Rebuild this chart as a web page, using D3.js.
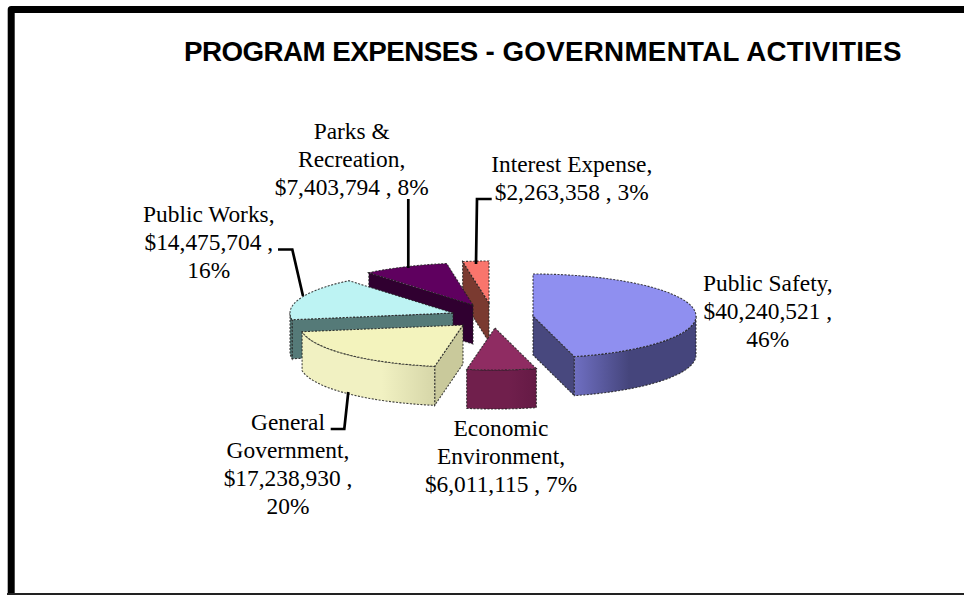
<!DOCTYPE html>
<html><head><meta charset="utf-8">
<script src="https://cdn.jsdelivr.net/npm/d3@7"></script>
<style>html,body{margin:0;padding:0;background:#fff}svg{display:block}</style>
</head><body><svg id="c" width="964" height="595"></svg>
<script>
const titleParts = ["PROGRAM EXPENSES","-","GOVERNMENTAL ACTIVITIES"];
const categories = ["Public Safety","Economic Environment","General Government","Public Works","Parks & Recreation","Interest Expense"];
const amounts = [40240521,6011115,17238930,14475704,7403794,2263358];
const labelLines = [
  ["Public Safety,","$40,240,521 ,","46%"],
  ["Economic","Environment,","$6,011,115 , 7%"],
  ["General","Government,","$17,238,930 ,","20%"],
  ["Public Works,","$14,475,704 ,","16%"],
  ["Parks &","Recreation,","$7,403,794 , 8%"],
  ["Interest Expense,","$2,263,358 , 3%"]
];
// layout
const W=964,H=595, rx=163, ry=42, depth=39;
const apexX=[533,495,463,453,473,489], apexY=[316,328,325,313,305,303];
const labelX=[767.8,501,288,208.8,351.7,571.7], labelY=[291,435.5,430,222,139,171.7];
const topCol=["#8f8ff0","#8f2c62","#f3f3bd","#bdf3f3","#5f005f","#f9756c"];
const radialCol=["#48487e","#6a1c48","#c9c99b","#557a78","#300030","#7a3a30"];
const wallDark=["#45457c","#651a45","#d6d6a8","#557a78","#300030","#7a3a30"];
const wallLight=["#6f6fc2","#701f4c","#f1f1c2","#557a78","#300030","#7a3a30"];
const drawOrder=[5,4,3,2,1,0];

const svg=d3.select("#c");
svg.append("rect").attr("width",W).attr("height",H).attr("fill","#fff");
svg.append("path").attr("d","M11.2,600 V9.4 H970").attr("fill","none").attr("stroke","#000").attr("stroke-width",7).attr("stroke-linejoin","round");
svg.append("line").attr("x1",7).attr("x2",W).attr("y1",594.2).attr("y2",594.2).attr("stroke","#222").attr("stroke-width",2.6);

// title: condensed horizontally
const title=svg.append("text").attr("font-family","'Liberation Sans',Arial,sans-serif").attr("font-weight","bold").attr("font-size",28.5).attr("fill","#000");
title.append("tspan").attr("letter-spacing",-0.55).text(titleParts[0]);
title.append("tspan").text(" "+titleParts[1]+" ");
title.append("tspan").attr("letter-spacing",0.3).text(titleParts[2]);
const tw=title.node().getBBox().width;
title.attr("transform",`translate(184,61.4) scale(${718/tw},1)`);

const pie=d3.pie().sort(null).value(d=>d);
const arcs=pie(amounts);
const defs=svg.append("defs");
const pt=(i,a,dy=0)=>[apexX[i]+rx*Math.sin(a),apexY[i]-ry*Math.cos(a)+dy];
const line=d3.line();
function face(d,fill,g){
  return g.append("path").attr("d",line(d)+"Z").attr("fill",fill)
    .attr("stroke","#222").attr("stroke-width",1.1).attr("stroke-dasharray","2 1.5").attr("stroke-opacity",.85);
}
const gPie=svg.append("g");
drawOrder.forEach(i=>{
  const a0=arcs[i].startAngle,a1=arcs[i].endAngle,g=gPie.append("g");
  const apex=[apexX[i],apexY[i]];
  const apexB=[apexX[i],apexY[i]+depth];
  if(Math.sin(a0)<-1e-6) face([apex,pt(i,a0),pt(i,a0,depth),apexB],radialCol[i],g);
  if(Math.sin(a1)>1e-6) face([apex,pt(i,a1),pt(i,a1,depth),apexB],radialCol[i],g);
  const w0=Math.max(a0,Math.PI/2),w1=Math.min(a1,Math.PI*1.5);
  if(w1>w0){
    const id="w"+i;
    const xs=[pt(i,w0)[0],pt(i,w1)[0]];
    const gr=defs.append("linearGradient").attr("id",id).attr("gradientUnits","userSpaceOnUse")
      .attr("x1",d3.min(xs)).attr("x2",d3.max(xs)).attr("y1",0).attr("y2",0);
    if(i===0){
      gr.append("stop").attr("offset",0).attr("stop-color",wallLight[i]);
      gr.append("stop").attr("offset",.45).attr("stop-color",wallDark[i]);
      gr.append("stop").attr("offset",1).attr("stop-color",wallDark[i]);
    } else {
      gr.append("stop").attr("offset",0).attr("stop-color",wallLight[i]);
      gr.append("stop").attr("offset",.6).attr("stop-color",wallLight[i]);
      gr.append("stop").attr("offset",1).attr("stop-color",wallDark[i]);
    }
    const ang=d3.range(0,41).map(k=>w0+(w1-w0)*k/40);
    face([...ang.map(a=>pt(i,a)),...ang.slice().reverse().map(a=>pt(i,a,depth))],`url(#${id})`,g);
  }
  const ang=d3.range(0,61).map(k=>a0+(a1-a0)*k/60);
  face([apex,...ang.map(a=>pt(i,a))],topCol[i],g);
});

const lead=d3.line();
const leaders=[
  [[278,249.5],[292.3,249.5],[303,296]],
  [[408.3,199],[408.3,268]],
  [[491.7,199],[477,199],[476,264]],
  [[330.7,429],[344.3,429],[348.3,392]]
];
leaders.forEach(p=>svg.append("path").attr("d",lead(p)).attr("fill","none").attr("stroke","#000").attr("stroke-width",2.7));

labelLines.forEach((ls,i)=>{
  const t=svg.append("text").attr("text-anchor","middle").attr("font-family","'Liberation Serif','Times New Roman',serif").attr("font-size",23.4).attr("fill","#000");
  ls.forEach((s,k)=>t.append("tspan").attr("x",labelX[i]).attr("y",labelY[i]+k*28).text(s));
});
</script></body></html>
